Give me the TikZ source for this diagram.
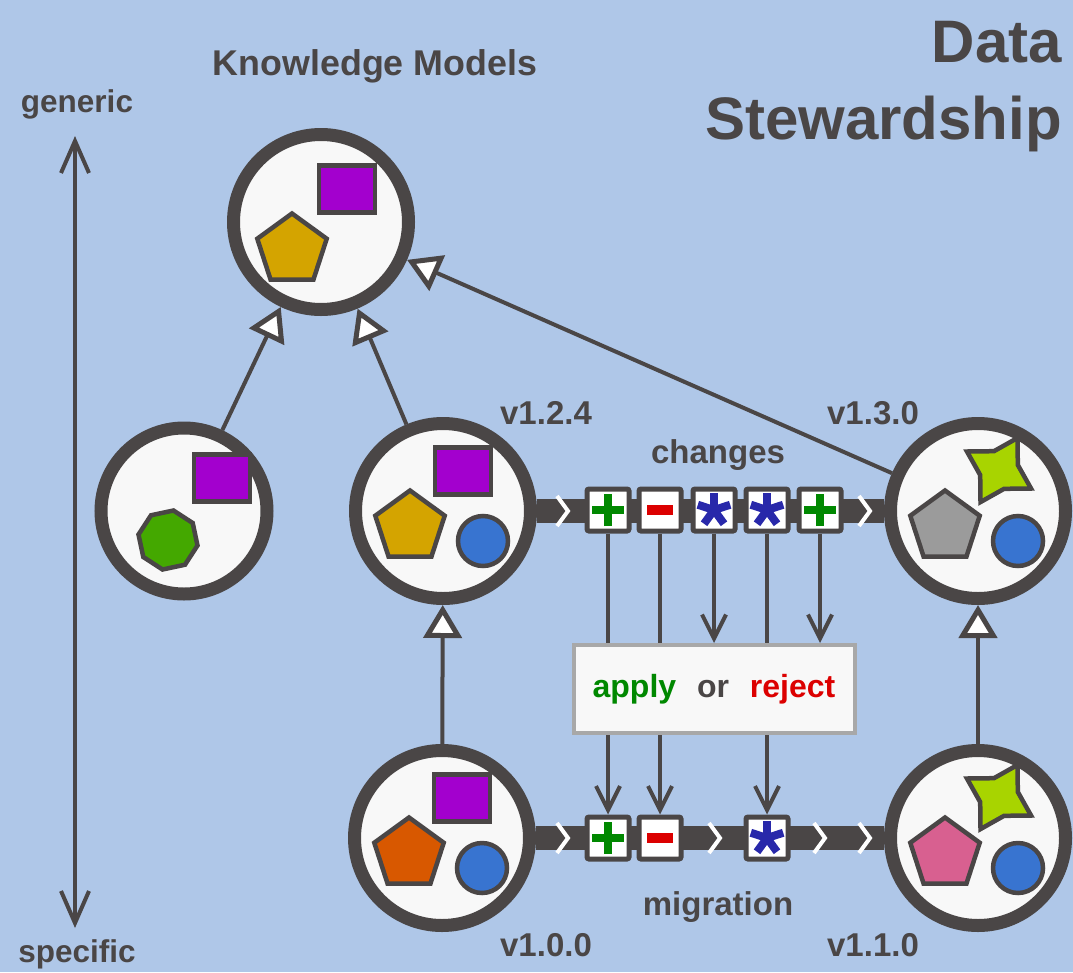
\documentclass[tikz,border=0pt]{standalone}
\usepackage{fontspec}
\setmainfont{Liberation Sans}
\usepackage{tikz}
\usetikzlibrary{arrows.meta,calc,positioning,shapes.geometric}
\definecolor{bgblue}{RGB}{175,199,232}
\definecolor{ink}{RGB}{74,70,70}
\definecolor{paper}{RGB}{248,248,248}
\definecolor{kmpurple}{RGB}{163,0,206}
\definecolor{kmgold}{RGB}{212,164,0}
\definecolor{kmgreen}{RGB}{68,168,0}
\definecolor{kmblue}{RGB}{56,116,208}
\definecolor{kmgray}{RGB}{155,155,155}
\definecolor{kmlime}{RGB}{168,212,0}
\definecolor{kmorange}{RGB}{216,88,0}
\definecolor{kmpink}{RGB}{216,96,144}
\definecolor{addgreen}{RGB}{0,136,0}
\definecolor{delred}{RGB}{220,0,0}
\definecolor{editblue}{RGB}{40,40,170}
\definecolor{boxline}{RGB}{168,168,168}

\begin{document}
\begin{tikzpicture}[x=1pt,y=-1pt,
  model/.style={circle,draw=ink,fill=paper,line width=13pt,minimum size=175pt,inner sep=0pt},
  part/.style={draw=ink,line width=4.5pt,inner sep=0pt},
  sq/.style={part,rectangle,fill=kmpurple,minimum width=56pt,minimum height=47pt},
  penta/.style={part,regular polygon,regular polygon sides=5,minimum size=73pt},
  ball/.style={part,circle,fill=kmblue,minimum size=50pt},
  spiky/.style={part,star,star points=4,star point ratio=1.9,minimum size=74pt,fill=kmlime,rotate=-30},
  octa/.style={part,regular polygon,regular polygon sides=8,minimum size=60pt,fill=kmgreen,rotate=12},
  txt/.style={text=ink,font=\fontsize{33pt}{33pt}\selectfont\bfseries,anchor=base,inner sep=0pt},
  gen/.style={draw=ink,line width=4pt,-{Triangle[length=33pt,width=38pt,line width=5pt,fill=white]}},
  flow/.style={draw=ink,line width=4pt,-{Straight Barb[length=24pt,width=24pt]}},
  axis/.style={draw=ink,line width=4pt,{Straight Barb[length=32pt,width=28pt]}-{Straight Barb[length=32pt,width=28pt]}},
  bar/.style={draw=ink,line width=24pt},
  chev/.style={draw=white,line width=4pt},
  change/.style={rectangle,draw=ink,fill=white,line width=5pt,minimum size=42pt,rounded corners=2pt},
  added/.style={change,path picture={\draw[addgreen,line width=8.5pt]
    (path picture bounding box.center) +(-16pt,0) -- +(16pt,0) +(0,-16pt) -- +(0,16pt);}},
  removed/.style={change,path picture={\draw[delred,line width=10pt]
    (path picture bounding box.center) +(-13pt,0) -- +(13pt,0);}},
  edited/.style={change,path picture={\foreach \a in {90,162,234,306,18}
    \draw[editblue,line width=8pt] (path picture bounding box.center) -- +(\a:17pt);}}
]
\useasboundingbox (0,0) rectangle (1073,972);
\fill[bgblue] (0,0) rectangle (1073,972);

% knowledge models
\node[model] (km) at (321,222) {};
\node[model,minimum size=166pt] (kmL) at (184,511) {};
\node[model] (v124) at (443,511) {};
\node[model] (v130) at (978,511) {};
\node[model] (v100) at (442,838) {};
\node[model] (v110) at (978,838) {};

\node[sq] (km-sq) at ($(km)+(26,-33)$) {};
\node[penta,fill=kmgold] (km-penta) at ($(km)+(-29,28)$) {};
\node[sq] (kmL-sq) at ($(kmL)+(38,-33)$) {};
\node[octa] (kmL-octa) at ($(kmL)+(-16,29)$) {};
\foreach \m in {v124,v100}
  \node[sq] (\m-sq) at ($(\m)+(20,-40)$) {};
\foreach \m/\c in {v124/kmgold,v130/kmgray,v100/kmorange,v110/kmpink}
  \node[penta,fill=\c] (\m-penta) at ($(\m)+(-33,16)$) {};
\foreach \m in {v124,v130,v100,v110}
  \node[ball] (\m-ball) at ($(\m)+(40,30)$) {};
\foreach \m in {v130,v110}
  \node[spiky] (\m-star) at ($(\m)+(21,-41)$) {};

% derived from
\draw[gen] (kmL) -- (km);
\draw[gen] (v124) -- (km);
\draw[gen] (v130) -- (km);
\draw[gen] (v100) -- (v124);
\draw[gen] (v110) -- (v130);

% change lines
\draw[bar] (v124.east) -- (v130.west);
\draw[bar] (v100.east) -- (v110.west);
\foreach \x in {563,865}
  \draw[chev] (\x-6,496) -- (\x+5,511) -- (\x-6,526);
\foreach \x in {563,715,820,865}
  \draw[chev] (\x-6,823) -- (\x+5,838) -- (\x-6,853);

\node[added] (c1) at (608,510) {};
\node[removed] (c2) at (660,510) {};
\node[edited] (c3) at (714,510) {};
\node[edited] (c4) at (767,510) {};
\node[added] (c5) at (820,510) {};
\node[added] (m1) at (608,838) {};
\node[removed] (m2) at (660,838) {};
\node[edited] (m3) at (767,838) {};

\draw[flow] (c1) -- (m1);
\draw[flow] (c2) -- (m2);
\draw[flow] (c4) -- (m3);
\node[draw=boxline,fill=paper,line width=4pt,minimum width=281pt,minimum height=88pt,
  font=\fontsize{32pt}{32pt}\selectfont\bfseries] (apply) at (714,689)
  {\textcolor{addgreen}{apply}\hspace{12pt} \textcolor{ink}{or}\hspace{12pt} \textcolor{delred}{reject}};
\draw[flow] (c3) -- (c3 |- apply.north);
\draw[flow] (c5) -- (c5 |- apply.north);

% labels
\node[txt,font=\fontsize{35.8pt}{36pt}\selectfont\bfseries] (title) at (375,75) {Knowledge Models};
\node[txt,anchor=base east,font=\fontsize{60pt}{60pt}\selectfont\bfseries] (data) at (1062,62) {Data};
\node[txt,anchor=base east,font=\fontsize{60pt}{60pt}\selectfont\bfseries] (stew) at (1062,139) {Stewardship};
\node[txt,font=\fontsize{31.5pt}{31.5pt}\selectfont\bfseries] (generic) at (77,112) {generic};
\node[txt,font=\fontsize{31.5pt}{31.5pt}\selectfont\bfseries] (specific) at (77,962) {specific};
\node[txt] (l124) at (546,424) {v1.2.4};
\node[txt] (l130) at (873,424) {v1.3.0};
\node[txt] (l100) at (546,956) {v1.0.0};
\node[txt] (l110) at (873,956) {v1.1.0};
\node[txt] (changes) at (718,463) {changes};
\node[txt] (migration) at (718,915) {migration};

\coordinate (up) at (75,136);
\coordinate (down) at (75,928);
\draw[axis] (up) -- (down);
\end{tikzpicture}
\end{document}
